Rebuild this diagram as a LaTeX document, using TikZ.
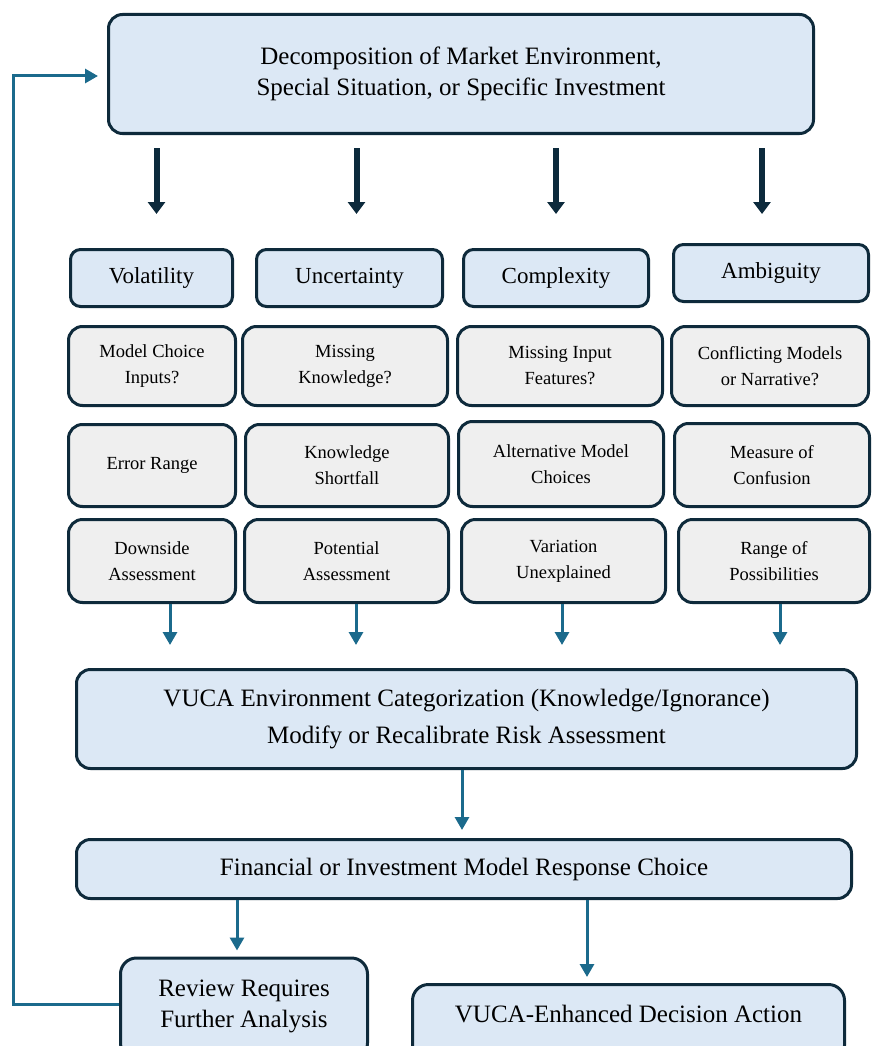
\documentclass[tikz,border=0pt]{standalone}
\usepackage{fontspec}
\setmainfont{Liberation Serif}
\usetikzlibrary{arrows.meta,calc}
\definecolor{edge}{HTML}{0E2A3B}
\definecolor{lblue}{HTML}{DCE8F5}
\definecolor{lgray}{HTML}{EFEFEF}
\definecolor{arrblue}{HTML}{1B6A8C}
\definecolor{darkarr}{HTML}{0C2A3C}
\tikzset{
  box/.style={draw=edge, line width=3pt, rounded corners=14pt, align=center, inner sep=2pt, text=black},
  bluebox/.style={box, fill=lblue},
  graybox/.style={box, fill=lgray, font=\fontsize{18.5}{26}\selectfont},
  catbox/.style={box, fill=lblue, rounded corners=10pt, font=\fontsize{23}{26}\selectfont},
  bigfont/.style={font=\fontsize{25}{31}\selectfont},
  thickarrow/.style={draw=darkarr, line width=6pt, -{Triangle[width=17pt,length=12pt]}},
  bluearrow/.style={draw=arrblue, line width=3pt, -{Triangle[width=14pt,length=13pt]}}
}
\begin{document}
\begin{tikzpicture}[x=1pt,y=-1pt]
\useasboundingbox (0,0) rectangle (872,1046);
% top
\node[bluebox, bigfont, minimum width=705pt, minimum height=119pt] (top) at (461,74)
  {Decomposition of Market Environment,\\Special Situation, or Specific Investment};
% categories
\node[catbox, minimum width=162pt, minimum height=57pt] (vol) at (151.5,278) {Volatility};
\node[catbox, minimum width=186pt, minimum height=57pt] (unc) at (349.5,278) {Uncertainty};
\node[catbox, minimum width=185pt, minimum height=57pt] (com) at (556,278) {Complexity};
\node[catbox, minimum width=195pt, minimum height=57pt] (amb) at (771,273) {Ambiguity};
% row 2
\node[graybox, minimum width=167pt, minimum height=79pt] (mc) at (152,366) {Model Choice\\Inputs?};
\node[graybox, minimum width=205pt, minimum height=79pt] (mk) at (345,366) {Missing\\Knowledge?};
\node[graybox, minimum width=205pt, minimum height=79pt] (mi) at (560,366) {Missing Input\\Features?};
\node[graybox, minimum width=197pt, minimum height=79pt] (cm) at (770,366) {Conflicting Models\\or Narrative?};
% row 3
\node[graybox, minimum width=167pt, minimum height=82pt] (er) at (152,465.5) {Error Range};
\node[graybox, minimum width=203pt, minimum height=82pt] (ks) at (347,465.5) {Knowledge\\Shortfall};
\node[graybox, minimum width=205pt, minimum height=85pt] (alt) at (561,464) {Alternative Model\\Choices};
\node[graybox, minimum width=195pt, minimum height=83pt] (moc) at (772,465) {Measure of\\Confusion};
% row 4
\node[graybox, minimum width=167pt, minimum height=83pt] (da) at (152,561) {Downside\\Assessment};
\node[graybox, minimum width=204pt, minimum height=83pt] (pa) at (346.5,561) {Potential\\Assessment};
\node[graybox, minimum width=204pt, minimum height=83pt] (vu) at (563.5,561) {Variation\\Unexplained};
\node[graybox, minimum width=191pt, minimum height=83pt] (rp) at (774,561) {Range of\\Possibilities};
% VUCA
\node[bluebox, font=\fontsize{25}{37}\selectfont, minimum width=780pt, minimum height=99pt] (vuca) at (466.5,719)
  {VUCA Environment Categorization (Knowledge/Ignorance)\\Modify or Recalibrate Risk Assessment};
\node[bluebox, bigfont, minimum width=775pt, minimum height=59pt] (fin) at (464,869)
  {Financial or Investment Model Response Choice};
\node[bluebox, bigfont, rounded corners=16pt, minimum width=247pt, minimum height=101pt] (rev) at (244,1008.5) {};
\node[bigfont, align=center, inner sep=0pt] (revt) at (244,1006.5) {Review Requires\\Further Analysis};
\node[bluebox, bigfont, rounded corners=16pt, minimum width=432pt, minimum height=77pt] (dec) at (628.5,1023) {};
\node[bigfont, inner sep=0pt] (dect) at (628.5,1014) {VUCA-Enhanced Decision Action};
% thick arrows
\draw[thickarrow] ($(top.south -| vol.north)+(5,13)$) -- ($(vol.north)+(5,-34)$);
\draw[thickarrow] ($(top.south -| unc.north)+(7,13)$) -- ($(unc.north)+(7,-34)$);
\draw[thickarrow] ($(top.south -| com.north)+(0,13)$) -- ($(com.north)+(0,-34)$);
\draw[thickarrow] ($(top.south -| amb.north)+(-9,13)$) -- ($(top.south -| amb.north)+(-9,79)$);
% blue arrows from row 4
\draw[bluearrow] ($(da.south)+(18,0)$) -- ($(vuca.north -| da.south)+(18,-23)$);
\draw[bluearrow] ($(pa.south)+(9.5,0)$) -- ($(vuca.north -| pa.south)+(9.5,-23)$);
\draw[bluearrow] ($(vu.south)+(-1.5,0)$) -- ($(vuca.north -| vu.south)+(-1.5,-23)$);
\draw[bluearrow] ($(rp.south)+(6,0)$) -- ($(vuca.north -| rp.south)+(6,-23)$);
% lower arrows
\draw[bluearrow] ($(vuca.south)+(-4.5,0)$) -- ($(fin.north -| vuca.south)+(-4.5,-8)$);
\draw[bluearrow] (fin.south -| rev.north) ++(-7,0) -- ($(rev.north)+(-7,-6)$);
\draw[bluearrow] ($(fin.south)+(123,0)$) -- ($(dec.north -| fin.south)+(123,-6)$);
% feedback loop
\coordinate (lc) at (13,1004);
\draw[bluearrow, rounded corners=0pt] (rev.west |- lc) -- (lc) |- ($(top.west)+(-9,2)$);
\end{tikzpicture}
\end{document}
